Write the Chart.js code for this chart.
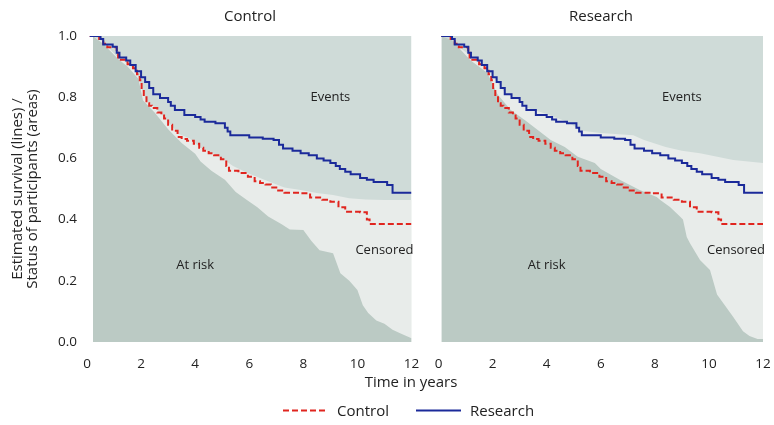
<!DOCTYPE html>
<html>
<head>
<meta charset="utf-8">
<title>Estimated survival by group</title>
<script src="https://cdn.jsdelivr.net/npm/chart.js@4.4.1/dist/chart.umd.min.js"></script>
<style>
  body { margin: 0; background: #fff; font-family: 'Open Sans', sans-serif; color: #222; }
  #wrap { position: relative; width: 774px; height: 425px; }
  #chart { position: absolute; left: 0; top: 0; }
  .txt { position: absolute; font-size: 15px; line-height: 15px; white-space: nowrap; }
  .mid { transform: translate(-50%, -50%); }
  .row { transform: translateY(-50%); }
  .key { position: absolute; }
</style>
</head>
<body>
<div id="wrap">
  <canvas id="chart" width="774" height="425"></canvas>
  <div class="txt mid" style="left:250px; top:15px">Control</div>
  <div class="txt mid" style="left:601px; top:15px">Research</div>
  <div class="txt mid" style="left:411px; top:381px">Time in years</div>
  <svg class="key" style="left:283px; top:409px" width="45" height="3"><line x1="0" y1="1.5" x2="45" y2="1.5" stroke="#e0251f" stroke-width="2" stroke-dasharray="6 3"/></svg>
  <div class="txt row" style="left:337px; top:410px">Control</div>
  <svg class="key" style="left:416px; top:409px" width="45" height="3"><line x1="0" y1="1.5" x2="45" y2="1.5" stroke="#1b2a9a" stroke-width="2"/></svg>
  <div class="txt row" style="left:470px; top:410px">Research</div>
</div>
<script>
const xTicks = [0, 2, 4, 6, 8, 10, 12]
const areaNames = ['Events', 'Censored', 'At risk']

// Kaplan-Meier curves (same in both panels)
const controlTime = [0.1, 0.45, 0.6, 0.75, 1.1, 1.15, 1.5, 1.7, 1.85, 1.95, 2.02, 2.1, 2.2, 2.3, 2.4, 2.6, 2.75, 2.85, 3.0, 3.15, 3.35, 3.5, 3.7, 3.95, 4.15, 4.3, 4.5, 4.7, 4.95, 5.15, 5.25, 5.6, 5.95, 6.2, 6.4, 6.6, 6.8, 7.0, 7.3, 7.9, 8.25, 8.7, 9.0, 9.3, 9.55, 10.1, 10.35, 10.45, 12]
const controlSurv = [1.0, 0.99, 0.975, 0.963, 0.945, 0.922, 0.908, 0.895, 0.875, 0.855, 0.825, 0.8, 0.78, 0.772, 0.765, 0.75, 0.74, 0.73, 0.71, 0.69, 0.67, 0.663, 0.658, 0.648, 0.635, 0.625, 0.617, 0.61, 0.597, 0.575, 0.56, 0.552, 0.54, 0.525, 0.52, 0.515, 0.505, 0.495, 0.488, 0.486, 0.472, 0.465, 0.458, 0.44, 0.426, 0.424, 0.4, 0.386, 0.386]
const researchTime = [0.1, 0.5, 0.6, 0.95, 1.1, 1.2, 1.45, 1.6, 1.8, 2.0, 2.15, 2.3, 2.45, 2.7, 3.0, 3.1, 3.25, 3.6, 4.0, 4.2, 4.35, 4.75, 5.1, 5.2, 5.3, 6.0, 6.5, 6.9, 7.1, 7.25, 7.6, 7.9, 8.2, 8.5, 8.75, 9.0, 9.2, 9.35, 9.55, 9.75, 10.1, 10.35, 10.6, 11.1, 11.3, 12]
const researchSurv = [1.0, 0.99, 0.972, 0.965, 0.945, 0.93, 0.92, 0.905, 0.885, 0.865, 0.85, 0.83, 0.81, 0.797, 0.784, 0.772, 0.758, 0.742, 0.735, 0.727, 0.72, 0.715, 0.7, 0.688, 0.676, 0.668, 0.664, 0.66, 0.645, 0.632, 0.625, 0.617, 0.61, 0.6, 0.593, 0.585, 0.575, 0.565, 0.556, 0.548, 0.536, 0.53, 0.523, 0.513, 0.488, 0.488]

// status areas, control panel (upper edge of each band)
const ctrlRiskTime = [0.22, 0.6, 1.15, 1.5, 1.9, 2.07, 2.5, 3.0, 3.5, 4.0, 4.2, 4.6, 5.1, 5.5, 5.9, 6.3, 6.7, 7.2, 7.5, 8.0, 8.3, 8.6, 9.1, 9.37, 9.7, 10.0, 10.2, 10.4, 10.7, 11.0, 11.3, 11.6, 12]
const ctrlRiskShare = [1.0, 0.975, 0.925, 0.9, 0.86, 0.79, 0.75, 0.695, 0.65, 0.615, 0.59, 0.56, 0.53, 0.49, 0.465, 0.44, 0.41, 0.385, 0.368, 0.366, 0.33, 0.3, 0.29, 0.225, 0.2, 0.17, 0.12, 0.095, 0.07, 0.06, 0.04, 0.028, 0.012]
const ctrlCensTime = [0.22, 0.6, 1.15, 1.6, 1.9, 2.05, 2.2, 2.6, 3.0, 3.4, 3.8, 4.2, 4.7, 5.0, 5.4, 6.0, 6.7, 7.3, 7.9, 8.5, 9.1, 9.7, 10.3, 11.0, 12]
const ctrlCensTop = [1.0, 0.98, 0.93, 0.905, 0.87, 0.82, 0.79, 0.76, 0.72, 0.68, 0.665, 0.635, 0.615, 0.6, 0.575, 0.55, 0.525, 0.505, 0.497, 0.487, 0.48, 0.47, 0.466, 0.464, 0.464]
const ctrlEventsTime = [0.22, 12]
const ctrlEventsTop = [1, 1]

// status areas, research panel
const resRiskTime = [0.11, 0.5, 1.19, 1.8, 2.18, 2.67, 3.2, 3.67, 4.15, 4.67, 5.15, 5.78, 6.0, 6.7, 7.44, 8.07, 8.2, 8.56, 8.93, 9.04, 9.18, 9.3, 9.67, 10.04, 10.3, 10.9, 11.26, 11.5, 11.8, 12]
const resRiskShare = [1.0, 0.985, 0.92, 0.88, 0.81, 0.758, 0.725, 0.693, 0.66, 0.637, 0.605, 0.585, 0.565, 0.53, 0.497, 0.474, 0.464, 0.441, 0.41, 0.4, 0.343, 0.323, 0.268, 0.235, 0.155, 0.082, 0.035, 0.02, 0.01, 0.01]
const resCensTime = [0.11, 0.6, 1.2, 1.6, 2.0, 2.45, 3.0, 3.3, 4.0, 4.75, 5.3, 6.0, 7.2, 7.6, 8.4, 9.0, 9.67, 10.9, 12]
const resCensTop = [1.0, 0.975, 0.935, 0.91, 0.87, 0.815, 0.79, 0.765, 0.745, 0.72, 0.69, 0.683, 0.676, 0.66, 0.637, 0.625, 0.617, 0.595, 0.585]
const resEventsTime = [0.11, 12]
const resEventsTop = [1, 1]

const RED = '#e0251f'
const BLUE = '#1b2a9a'
const EVENTS_BG = '#cfdbd8'
const CENS_BG = '#e8ecea'
const RISK_BG = '#bbcac4'

function pts(ts, vs) {
    return ts.map((t, i) => ({ x: t, y: vs[i] }))
}

function area(ts, vs, color, axis, order) {
    return {
        data: pts(ts, vs), xAxisID: axis, order: order,
        backgroundColor: color, borderWidth: 0, pointRadius: 0, fill: 'origin'
    }
}

function curve(ts, vs, color, dash, axis, order) {
    return {
        data: pts(ts, vs), xAxisID: axis, order: order,
        borderColor: color, borderWidth: 2, borderDash: dash,
        pointRadius: 0, fill: false, stepped: 'before'
    }
}

// labels inside the areas, in data units
const areaLabels = {
    id: 'areaLabels',
    afterDatasetsDraw(chart) {
        const ctx = chart.ctx
        const y = chart.scales.y
        const at = [[9.0, 0.8], [11.0, 0.3], [4.0, 0.25]]
        ctx.save()
        ctx.font = '13px "Open Sans"'
        ctx.fillStyle = '#222'
        ctx.textAlign = 'center'
        ctx.textBaseline = 'middle'
        for (const id of ['xL', 'xR']) {
            const x = chart.scales[id]
            areaNames.forEach((name, i) => {
                ctx.fillText(name, x.getPixelForValue(at[i][0]), y.getPixelForValue(at[i][1]))
            })
        }
        ctx.restore()
    }
}

function xAxis(min, weight) {
    return {
        type: 'linear', position: 'bottom',
        stack: 'panels', stackWeight: weight,
        min: min, max: 12,
        afterBuildTicks: s => { s.ticks = xTicks.map(v => ({ value: v })) },
        afterFit: s => { s.height = 83 },
        // tick marks are hidden, tickLength only pushes the labels down
        grid: { display: false, drawTicks: true, tickLength: 12 },
        border: { display: false },
        ticks: { padding: 2, color: '#222', font: { size: 13.5 }, maxRotation: 0, callback: v => v }
    }
}

Chart.defaults.font.family = "'Open Sans', sans-serif"
Chart.defaults.color = '#222'

const ctx = document.getElementById('chart').getContext('2d')
const survivalChart = new Chart(ctx, {
    type: 'line',
    data: {
        datasets: [
            area(ctrlEventsTime, ctrlEventsTop, EVENTS_BG, 'xL', 10),
            area(ctrlCensTime, ctrlCensTop, CENS_BG, 'xL', 9),
            area(ctrlRiskTime, ctrlRiskShare, RISK_BG, 'xL', 8),
            area(resEventsTime, resEventsTop, EVENTS_BG, 'xR', 10),
            area(resCensTime, resCensTop, CENS_BG, 'xR', 9),
            area(resRiskTime, resRiskShare, RISK_BG, 'xR', 8),
            curve(controlTime, controlSurv, RED, [6, 3], 'xL', 2),
            curve(researchTime, researchSurv, BLUE, [], 'xL', 1),
            curve(controlTime, controlSurv, RED, [6, 3], 'xR', 2),
            curve(researchTime, researchSurv, BLUE, [], 'xR', 1)
        ]
    },
    options: {
        responsive: false,
        animation: false,
        layout: { padding: { top: 36, right: 11, left: 0, bottom: 0 } },
        scales: {
            xL: xAxis(0, 12),
            xR: xAxis(-1, 13),      // one extra year on the left gives the gap between panels
            y: {
                min: 0, max: 1,
                afterFit: s => { s.width = 87 },
                grid: { display: false, drawTicks: false },
                border: { display: false },
                ticks: { stepSize: 0.2, padding: 10, color: '#222', font: { size: 13.5 }, callback: v => v.toFixed(1) },
                title: {
                    display: true,
                    text: ['Estimated survival (lines) /', 'Status of participants (areas)'],
                    color: '#222',
                    font: { size: 15, lineHeight: 1 },
                    padding: { top: 10, bottom: 0 }
                }
            }
        },
        plugins: {
            legend: { display: false },
            tooltip: { enabled: false }
        }
    },
    plugins: [areaLabels]
});
</script>
</body>
</html>
